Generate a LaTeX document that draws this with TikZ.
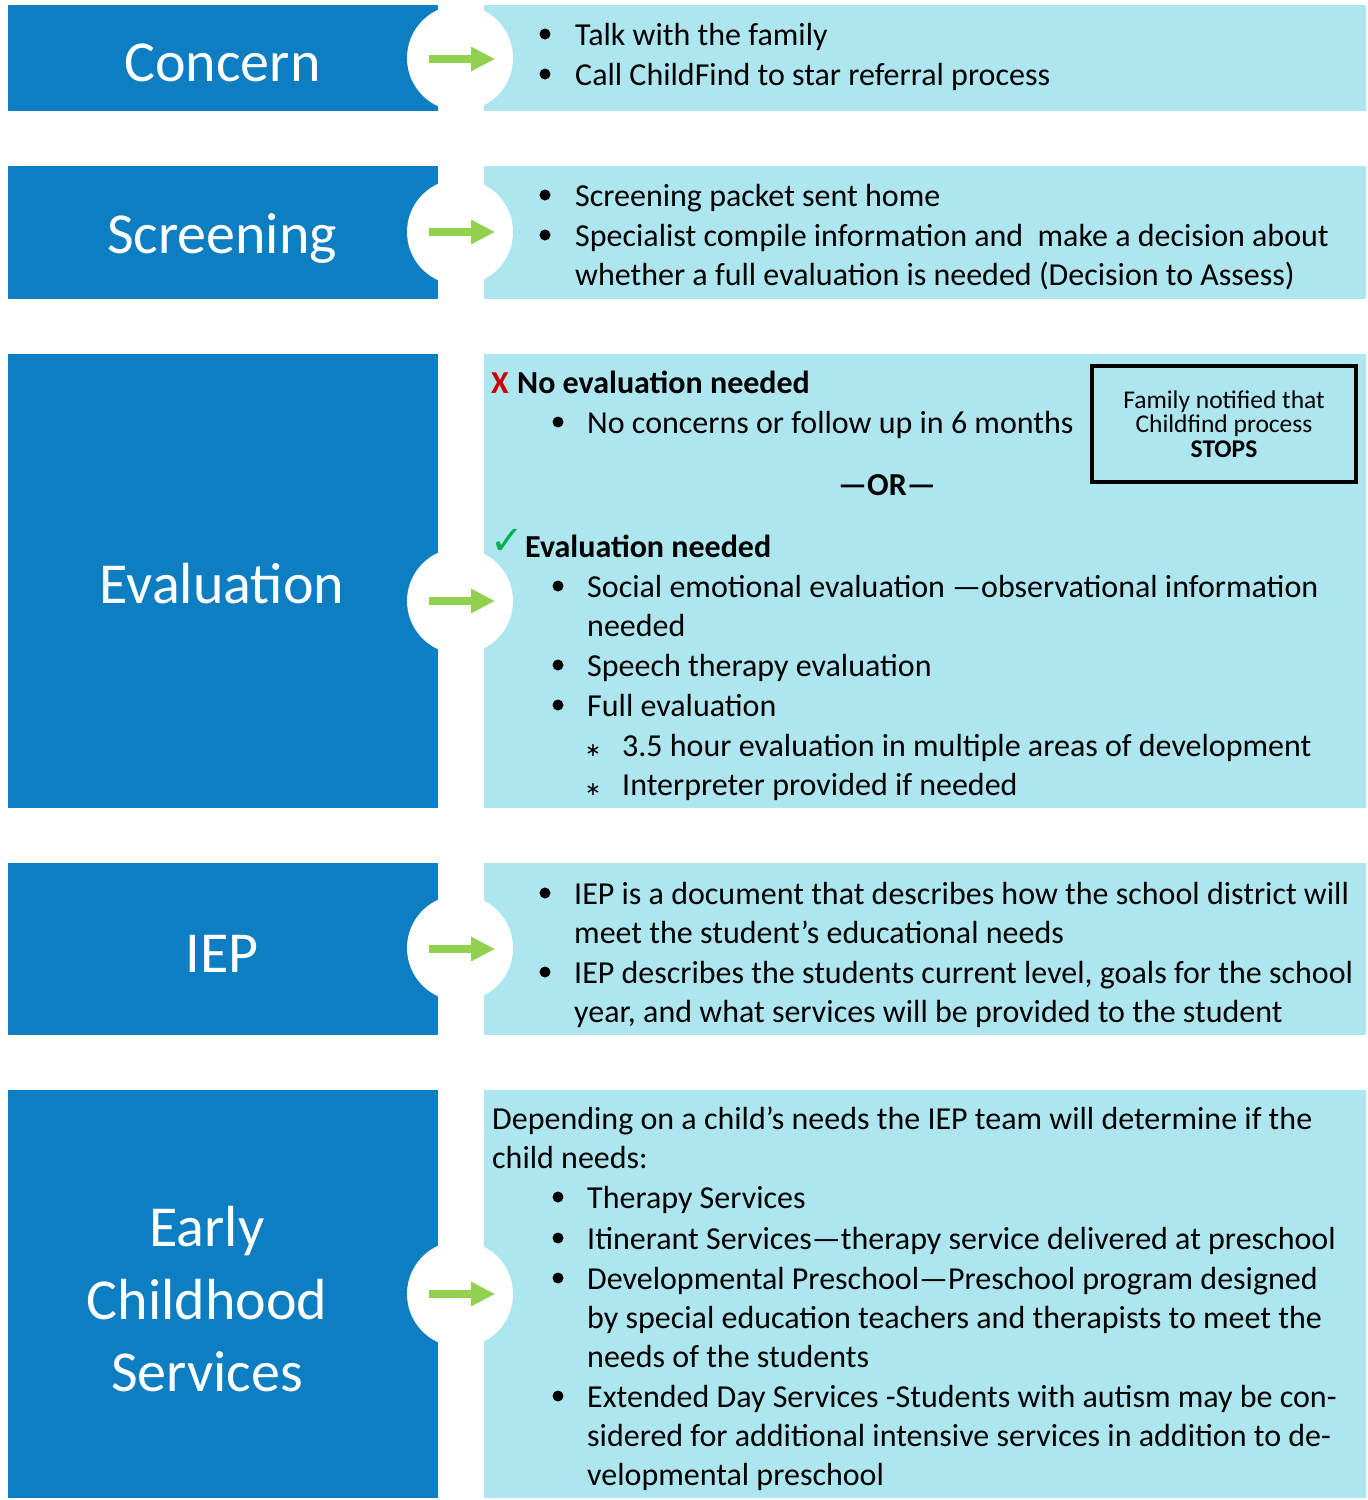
\documentclass[tikz,border=0pt]{standalone}
\usepackage{fontspec}
\setmainfont{Carlito}
\newfontfamily\dejavu{DejaVu Sans}
\usetikzlibrary{arrows.meta}
\definecolor{dblue}{RGB}{14,126,194}
\definecolor{lblue}{RGB}{174,230,240}
\definecolor{agreen}{RGB}{146,208,80}
\definecolor{xred}{RGB}{204,0,0}
\definecolor{cgreen}{RGB}{0,176,80}
\tikzset{
  lbox/.style={fill=dblue, anchor=north west, inner sep=0pt, minimum width=430pt},
  ltxt/.style={text=white, anchor=base, inner sep=0pt, font=\fontsize{58}{72}\selectfont},
  rbox/.style={fill=lblue, anchor=north west, inner sep=0pt, minimum width=882pt},
  wcirc/.style={circle, fill=white, minimum size=106pt, inner sep=0pt},
  garrow/.style={draw=agreen, line width=8pt, -{Triangle[length=24pt,width=23pt]}},
  txt/.style={anchor=base west, inner sep=0pt, font=\fontsize{32}{39}\selectfont},
  btxt/.style={txt, font=\fontsize{32}{39}\selectfont\bfseries},
  chk/.style={anchor=base west, inner sep=0pt, text=cgreen, font=\fontsize{40}{40}\selectfont\dejavu},
  dot/.style={circle, fill=black, minimum size=11pt, inner sep=0pt},
  star/.style={anchor=base, inner sep=0pt, font=\fontsize{19}{20}\selectfont\dejavu},
  stopbox/.style={draw=black, line width=4pt, minimum width=264pt, minimum height=116pt, align=center, inner sep=0pt, font=\fontsize{25.5}{24.5}\selectfont}
}
\begin{document}
\begin{tikzpicture}[x=1pt,y=-1pt]
\useasboundingbox (0,0) rectangle (1368,1500);
% left boxes
\node[lbox, minimum height=106pt] (L1) at (8,5) {};
\node[lbox, minimum height=133pt] (L2) at (8,166) {};
\node[lbox, minimum height=454pt] (L3) at (8,354) {};
\node[lbox, minimum height=172pt] (L4) at (8,863) {};
\node[lbox, minimum height=408pt] (L5) at (8,1090) {};
\node[ltxt] (L1t) at (222.5,81) {Concern};
\node[ltxt] (L2t) at (222,253) {Screening};
\node[ltxt] (L3t) at (222,603) {Evaluation};
\node[ltxt] (L4t) at (222,972) {IEP};
\node[ltxt] (L5a) at (207,1246) {Early};
\node[ltxt] (L5b) at (207,1319) {Childhood};
\node[ltxt] (L5c) at (207,1391) {Services};
% right boxes
\node[rbox, minimum height=106pt] (R1) at (484,5) {};
\node[rbox, minimum height=133pt] (R2) at (484,166) {};
\node[rbox, minimum height=454pt] (R3) at (484,354) {};
\node[rbox, minimum height=172pt] (R4) at (484,863) {};
\node[rbox, minimum height=408pt] (R5) at (484,1090) {};
% circles and arrows
\node[wcirc] (C1) at (460,58) {};
\node[wcirc] (C2) at (460,232) {};
\node[wcirc] (C3) at (460,601) {};
\node[wcirc] (C4) at (460,948) {};
\node[wcirc] (C5) at (460,1294) {};
\foreach \i/\yy in {1/59,2/232,3/601,4/949,5/1294}{
  \coordinate (as\i) at (429,\yy);
  \coordinate (ae\i) at (495,\yy);
  \draw[garrow] (as\i) -- (ae\i);
}
% Concern
\node[dot] (d11) at (545,34) {};
\node[txt] (t11) at (575,45) {Talk with the family};
\node[dot] (d12) at (545,74) {};
\node[txt] (t12) at (575,85) {Call ChildFind to star referral process};
% Screening
\node[dot] (d21) at (545,195) {};
\node[txt] (t21) at (575,206) {Screening packet sent home};
\node[dot] (d22) at (545,235) {};
\node[txt] (t22) at (575,246) {Specialist compile information and\ \ make a decision about};
\node[txt] (t23) at (575,285) {whether a full evaluation is needed (Decision to Assess)};
% Evaluation
\node[btxt, text=xred] (x31) at (491,393) {X};
\node[btxt] (t31) at (517,393) {No evaluation needed};
\node[dot] (d32) at (558,422) {};
\node[txt] (t32) at (587,433) {No concerns or follow up in 6 months};
\node[btxt, anchor=base] (t33) at (887,495) {—OR—};
\node[chk] (k34) at (490,554) {✓};
\node[btxt] (t34) at (525,557) {Evaluation needed};
\node[dot] (d35) at (558,586) {};
\node[txt] (t35) at (587,597) {Social emotional evaluation —observational information};
\node[txt] (t36) at (587,636) {needed};
\node[dot] (d37) at (558,665) {};
\node[txt] (t37) at (587,676) {Speech therapy evaluation};
\node[dot] (d38) at (558,705) {};
\node[txt] (t38) at (587,716) {Full evaluation};
\node[star] (s39) at (593,756) {∗};
\node[txt] (t39) at (622,756) {3.5 hour evaluation in multiple areas of development};
\node[star] (s310) at (593,795) {∗};
\node[txt] (t310) at (622,795) {Interpreter provided if needed};
\node[stopbox] (S) at (1224,424) {Family notified that\\Childfind process\\\textbf{STOPS}};
% IEP
\node[dot] (d41) at (545,893) {};
\node[txt] (t41) at (574,904) {IEP is a document that describes how the school district will};
\node[txt] (t42) at (574,943) {meet the student’s educational needs};
\node[dot] (d43) at (545,972) {};
\node[txt] (t43) at (574,983) {IEP describes the students current level, goals for the school};
\node[txt] (t44) at (574,1022) {year, and what services will be provided to the student};
% Early Childhood
\node[txt] (t51) at (492,1129) {Depending on a child’s needs the IEP team will determine if the};
\node[txt] (t52) at (492,1168) {child needs:};
\node[dot] (d53) at (558,1197) {};
\node[txt] (t53) at (587,1208) {Therapy Services};
\node[dot] (d54) at (558,1238) {};
\node[txt] (t54) at (587,1249) {Itinerant Services—therapy service delivered at preschool};
\node[dot] (d55) at (558,1278) {};
\node[txt] (t55) at (587,1289) {Developmental Preschool—Preschool program designed};
\node[txt] (t56) at (587,1328) {by special education teachers and therapists to meet the};
\node[txt] (t57) at (587,1367) {needs of the students};
\node[dot] (d58) at (558,1396) {};
\node[txt] (t58) at (587,1407) {Extended Day Services -Students with autism may be con-};
\node[txt] (t59) at (587,1446) {sidered for additional intensive services in addition to de-};
\node[txt] (t510) at (587,1485) {velopmental preschool};
\end{tikzpicture}
\end{document}
